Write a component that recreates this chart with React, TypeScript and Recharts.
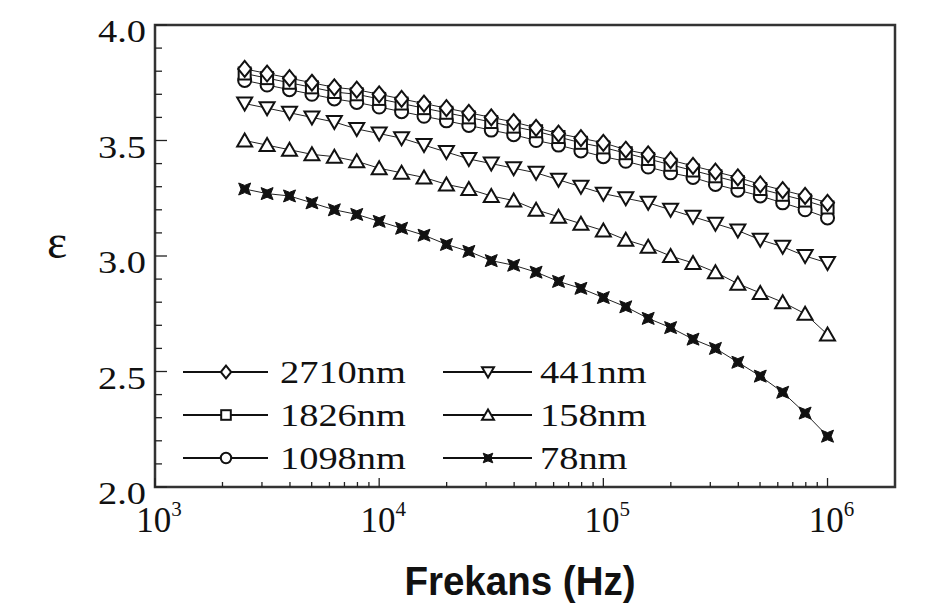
import React from "react";
import { LineChart, Line, XAxis, YAxis, ReferenceArea, Customized } from "recharts";

// Frequencies (Hz)
const FREQ = [
  2512, 3162, 3981, 5012, 6310, 7943, 10000, 12589, 15849, 19953, 25119, 31623, 39811, 50119,
  63096, 79433, 100000, 125893, 158489, 199526, 251189, 316228, 398107, 501187, 630957, 794328, 1000000,
];

const S2710 = [3.81, 3.79, 3.77, 3.75, 3.73, 3.72, 3.7, 3.68, 3.66, 3.64, 3.62, 3.6, 3.58, 3.555, 3.53, 3.51, 3.49, 3.46, 3.44, 3.415, 3.39, 3.365, 3.34, 3.31, 3.285, 3.26, 3.23];
const S1826 = [3.79, 3.77, 3.75, 3.73, 3.71, 3.7, 3.68, 3.66, 3.64, 3.62, 3.6, 3.58, 3.56, 3.54, 3.515, 3.49, 3.47, 3.445, 3.42, 3.395, 3.37, 3.345, 3.32, 3.29, 3.265, 3.24, 3.21];
const S1098 = [3.76, 3.74, 3.72, 3.7, 3.68, 3.665, 3.645, 3.625, 3.605, 3.585, 3.565, 3.545, 3.525, 3.5, 3.48, 3.455, 3.43, 3.41, 3.385, 3.36, 3.34, 3.31, 3.285, 3.26, 3.23, 3.2, 3.165];
const S441 = [3.66, 3.64, 3.62, 3.6, 3.58, 3.55, 3.53, 3.51, 3.48, 3.45, 3.42, 3.4, 3.38, 3.36, 3.33, 3.3, 3.27, 3.25, 3.23, 3.2, 3.17, 3.14, 3.11, 3.07, 3.04, 3.0, 2.97];
const S158 = [3.5, 3.48, 3.46, 3.44, 3.43, 3.41, 3.38, 3.36, 3.34, 3.31, 3.29, 3.26, 3.24, 3.2, 3.17, 3.14, 3.11, 3.07, 3.04, 3.0, 2.97, 2.93, 2.88, 2.84, 2.8, 2.75, 2.66];
const S78 = [3.29, 3.27, 3.26, 3.23, 3.2, 3.18, 3.15, 3.12, 3.09, 3.05, 3.02, 2.98, 2.96, 2.93, 2.89, 2.86, 2.82, 2.78, 2.73, 2.69, 2.64, 2.6, 2.54, 2.48, 2.41, 2.32, 2.22];

const SERIES_NAMES = ["2710nm", "1826nm", "1098nm", "441nm", "158nm", "78nm"];
const SERIES_KEYS = ["s2710", "s1826", "s1098", "s441", "s158", "s78"];
const SERIES_SHAPES = ["diamond", "square", "circle", "down", "up", "star"];

const X_TICKS = [
  1000, 2000, 3000, 4000, 5000, 6000, 7000, 8000, 9000,
  10000, 20000, 30000, 40000, 50000, 60000, 70000, 80000, 90000,
  100000, 200000, 300000, 400000, 500000, 600000, 700000, 800000, 900000,
  1000000,
];
const Y_TICKS = [2.0, 2.1, 2.2, 2.3, 2.4, 2.5, 2.6, 2.7, 2.8, 2.9, 3.0, 3.1, 3.2, 3.3, 3.4, 3.5, 3.6, 3.7, 3.8, 3.9, 4.0];

const SERIES_VALUES = [S2710, S1826, S1098, S441, S158, S78];
const data = FREQ.map((f, i) => {
  const row: Record<string, number> = { f };
  SERIES_KEYS.forEach((k, j) => (row[k] = SERIES_VALUES[j][i]));
  return row;
});

const SERIF = "'Liberation Serif', 'Times New Roman', serif";
const SANS = "'Liberation Sans', Arial, sans-serif";

function Marker({ shape, cx, cy, s = 1 }: { shape: string; cx: number; cy: number; s?: number }) {
  const sw = 2;
  const common = { fill: "#fff", stroke: "#111", strokeWidth: sw };
  if (shape === "circle") return <circle cx={cx} cy={cy} r={6.5 * s} {...common} />;
  if (shape === "square")
    return <rect x={cx - 6 * s} y={cy - 6 * s} width={12 * s} height={12 * s} {...common} />;
  if (shape === "diamond") {
    const pts = [[cx, cy - 8 * s], [cx + 6.5 * s, cy], [cx, cy + 8 * s], [cx - 6.5 * s, cy]];
    return <polygon points={pts.map((p) => p.join(",")).join(" ")} {...common} />;
  }
  if (shape === "up") {
    const pts = [[cx, cy - 7 * s], [cx + 7.5 * s, cy + 6 * s], [cx - 7.5 * s, cy + 6 * s]];
    return <polygon points={pts.map((p) => p.join(",")).join(" ")} {...common} />;
  }
  if (shape === "down") {
    const pts = [[cx - 7.5 * s, cy - 6 * s], [cx + 7.5 * s, cy - 6 * s], [cx, cy + 7 * s]];
    return <polygon points={pts.map((p) => p.join(",")).join(" ")} {...common} />;
  }
  // star: 4-pointed concave star with points on the diagonals
  const pts: number[][] = [];
  for (let k = 0; k < 8; k++) {
    const ang = (Math.PI / 4) * k + Math.PI / 4;
    const rr = k % 2 === 0 ? 8.5 * s : 3.6 * s;
    pts.push([cx + rr * Math.cos(ang), cy + rr * Math.sin(ang)]);
  }
  return <polygon points={pts.map((p) => p.join(",")).join(" ")} fill="#111" stroke="#111" strokeWidth={1} />;
}

const makeDot = (shape: string) => (props: any) => {
  const { cx, cy, index } = props;
  if (cx == null || cy == null) return <g key={`d-${shape}-${index}`} />;
  return (
    <g key={`d-${shape}-${index}`}>
      <Marker shape={shape} cx={cx} cy={cy} />
    </g>
  );
};

const renderXTick = (props: any) => {
  const { x, y, payload, index } = props;
  const v = payload.value as number;
  const lg = Math.log10(v);
  const exp = Math.round(lg);
  const major = Math.abs(lg - exp) < 1e-6;
  return (
    <g key={`xt-${index}`}>
      <line x1={x} y1={y} x2={x} y2={y - (major ? 9 : 5)} stroke="#222" strokeWidth={1.3} />
      {major && (
        <text x={x + 4} y={y + 45} textAnchor="middle" fontFamily={SERIF} fontSize={35} fill="#111">
          10
          <tspan fontSize={21} dy={-16}>
            {exp}
          </tspan>
        </text>
      )}
    </g>
  );
};

const renderYTick = (props: any) => {
  const { x, y, payload, index } = props;
  const v = payload.value as number;
  const major = Math.round(v * 10) % 5 === 0;
  return (
    <g key={`yt-${index}`}>
      <line x1={x} y1={y} x2={x + (major ? 12 : 7)} y2={y} stroke="#222" strokeWidth={1.3} />
      {major && (
        <g transform={`translate(${x - 9},${y + 17}) scale(1.2,1)`}>
          <text x={0} y={0} textAnchor="end" fontFamily={SERIF} fontSize={32} fill="#111">
            {v.toFixed(1)}
          </text>
        </g>
      )}
    </g>
  );
};

const LegendSvg = () => {
  const cols = [
    { lineX1: 183, lineX2: 268, markX: 226, textX: 280 },
    { lineX1: 443, lineX2: 532, markX: 488, textX: 540 },
  ];
  const rows = [372, 415, 458];
  return (
    <g>
      {SERIES_NAMES.map((name, i) => {
        const c = cols[Math.floor(i / 3)];
        const ry = rows[i % 3];
        return (
          <g key={name}>
            <line x1={c.lineX1} y1={ry} x2={c.lineX2} y2={ry} stroke="#111" strokeWidth={2.2} />
            <Marker shape={SERIES_SHAPES[i]} cx={c.markX} cy={ry} s={0.8} />
            <g transform={`translate(${c.textX},${ry + 11}) scale(1.2,1)`}>
              <text x={0} y={0} fontFamily={SERIF} fontSize={32} fill="#111">
                {name}
              </text>
            </g>
          </g>
        );
      })}
      <g transform="translate(520,595) scale(0.94,1)">
        <text x={0} y={0} textAnchor="middle" fontFamily={SANS} fontWeight="bold" fontSize={41} fill="#111">
          Frekans (Hz)
        </text>
      </g>
      <text x={57} y={258} textAnchor="middle" fontFamily={SERIF} fontSize={48} fill="#111">
        ε
      </text>
    </g>
  );
};

export default function App() {
  const drawOrder = [2, 1, 0, 3, 4, 5];
  return (
    <div style={{ position: "absolute", left: 0, top: 0, background: "#fff" }}>
      <LineChart
        width={944}
        height={609}
        data={data}
        margin={{ top: 25, right: 49, bottom: 62, left: 95 }}
      >
        <XAxis
          dataKey="f"
          type="number"
          scale="log"
          domain={[1000, 2000000]}
          allowDataOverflow
          ticks={X_TICKS}
          interval={0}
          tick={renderXTick}
          tickLine={false}
          axisLine={false}
          tickSize={0}
          tickMargin={0}
          height={60}
        />
        <YAxis
          type="number"
          domain={[2, 4]}
          allowDataOverflow
          ticks={Y_TICKS}
          interval={0}
          tick={renderYTick}
          tickLine={false}
          axisLine={false}
          tickSize={0}
          tickMargin={0}
          width={60}
        />
        {drawOrder.map((j) => (
          <Line
            key={SERIES_KEYS[j]}
            dataKey={SERIES_KEYS[j]}
            name={SERIES_NAMES[j]}
            stroke="#222"
            strokeWidth={1}
            dot={makeDot(SERIES_SHAPES[j])}
            activeDot={false}
            isAnimationActive={false}
          />
        ))}
        <ReferenceArea
          x1={1000}
          x2={2000000}
          y1={2}
          y2={4}
          fill="none"
          stroke="#333"
          strokeWidth={2.5}
          ifOverflow="visible"
        />
        <Customized component={LegendSvg} />
      </LineChart>
    </div>
  );
}
